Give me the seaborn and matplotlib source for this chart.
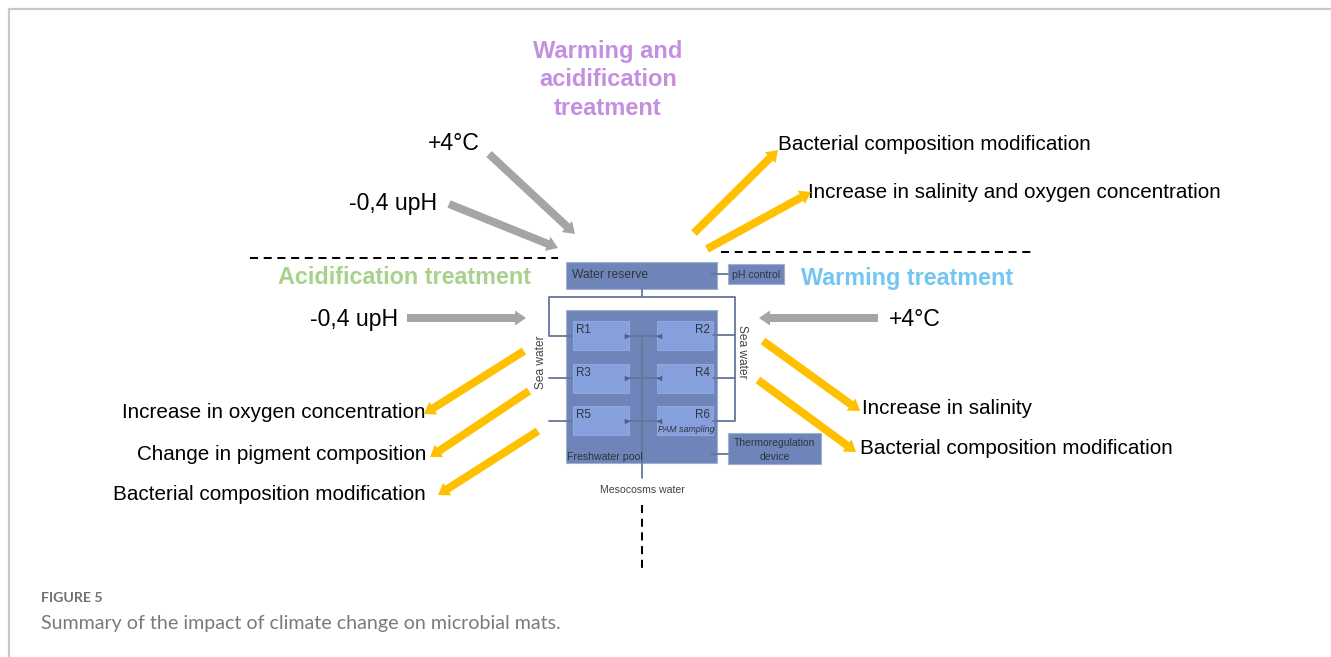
import seaborn as sns
import matplotlib.pyplot as plt
import pandas as pd
from matplotlib.patches import Rectangle

# Labels
title_top = "Warming and\nacidification\ntreatment"
title_left = "Acidification treatment"
title_right = "Warming treatment"
caption_head = "FIGURE 5"
caption_text = "Summary of the impact of climate change on microbial mats."
left_effects = ["Increase in oxygen concentration", "Change in pigment composition", "Bacterial composition modification"]
left_effects_y = [413, 454, 494]
right_effects = ["Increase in salinity", "Bacterial composition modification"]
right_effects_x = [862, 860]
right_effects_y = [408, 449]
top_effects = ["Bacterial composition modification", "Increase in salinity and oxygen concentration"]
top_effects_x = [778, 808]
top_effects_y = [144, 192]
reactors = ["R1", "R2", "R3", "R4", "R5", "R6"]
reactors_x = [573, 657, 573, 657, 573, 657]
reactors_y = [321, 321, 364, 364, 406, 406]

# Arrows as start x, start y, end x, end y (picture pixels)
gray_arrows = [(489, 154, 575, 234), (449, 204, 558, 248), (407, 318, 526, 318), (878, 318, 759, 318)]
yellow_arrows = [(694, 233, 778, 150), (707, 249, 811, 192),
                 (524, 351, 424, 414), (529, 391, 430, 457), (538, 431, 438, 495),
                 (763, 341, 860, 411), (758, 380, 856, 452)]

# Black dashed separators
dash_x = [[250, 558], [721, 1031], [642, 642]]
dash_y = [[258, 258], [252, 252], [505, 568]]

# Pipes of the set-up
pipes = [
    [(642, 289), (642, 297)],
    [(572, 336), (549, 336), (549, 297), (735, 297), (735, 421), (713, 421)],
    [(549, 378), (572, 378)], [(549, 421), (572, 421)],
    [(735, 335), (713, 335)], [(735, 378), (713, 378)],
    [(627, 336), (659, 336)], [(627, 378), (659, 378)], [(627, 421), (659, 421)],
    [(642, 336), (642, 478)],
    [(711, 274), (728, 274)], [(711, 454), (728, 454)],
]
pipe_rows = [(i, x, y) for i, pipe in enumerate(pipes) for x, y in pipe]
pipe_df = pd.DataFrame(pipe_rows, columns=["pipe", "x", "y"])

# Small valve marks at the reactor outlets
valve_left_x = [627, 627, 627]
valve_right_x = [659, 659, 659]
valve_y = [336, 378, 421]

sns.set_theme(style="white")
plt.rcParams["font.family"] = ["Liberation Sans", "DejaVu Sans"]

fig, ax = plt.subplots(figsize=(13.31, 6.57), dpi=100)
fig.subplots_adjust(left=0, right=1, top=1, bottom=0)
ax.set_xlim(0, 1331)
ax.set_ylim(657, 0)
ax.axis("off")

# Page frame
sns.lineplot(x=[8.5, 8.5, 1331], y=[657, 8.5, 8.5], sort=False, estimator=None, color="#c9c9c9", linewidth=1.6, ax=ax)

# Tanks
box_col = "#6f85b9"
tanks = [(566, 262, 151, 27), (728, 264, 56, 20), (566, 310, 151, 153), (728, 433, 93, 31)]
for x, y, w, h in tanks:
    ax.add_patch(Rectangle((x, y), w, h, facecolor=box_col, edgecolor="#a3b1d1", linewidth=0.8, zorder=1))
for x, y in zip(reactors_x, reactors_y):
    ax.add_patch(Rectangle((x, y), 56, 29, facecolor="#86a0de", edgecolor="#96addf", linewidth=0.6, zorder=2))

sns.lineplot(data=pipe_df, x="x", y="y", units="pipe", estimator=None, sort=False,
             color="#66769c", linewidth=1.3, ax=ax, zorder=3)
sns.scatterplot(x=valve_left_x, y=valve_y, marker=">", s=16, color="#4f5f85", linewidth=0, ax=ax, zorder=3)
sns.scatterplot(x=valve_right_x, y=valve_y, marker="<", s=16, color="#4f5f85", linewidth=0, ax=ax, zorder=3)

dark = "#2f3440"
ax.text(572, 274.5, "Water reserve", fontsize=8.7, color=dark, va="center")
ax.text(756, 275, "pH control", fontsize=7.6, color=dark, va="center", ha="center")
ax.text(774.5, 450, "Thermoregulation\ndevice", fontsize=7.5, color=dark, va="center", ha="center", linespacing=1.5)
ax.text(567, 457, "Freshwater pool", fontsize=7.6, color=dark, va="center")
ax.text(642, 490, "Mesocosms water", fontsize=7.6, color="#444444", va="center", ha="center")
ax.text(541, 362, "Sea water", fontsize=8.6, color="#444444", va="center", ha="center", rotation=90)
ax.text(742, 352, "Sea water", fontsize=8.6, color="#444444", va="center", ha="center", rotation=-90)
ax.text(686, 430, "PAM sampling", fontsize=6.4, color=dark, va="center", ha="center", style="italic")
for name, x, y in zip(reactors, reactors_x, reactors_y):
    if x < 640:
        ax.text(x + 3, y + 9, name, fontsize=8.4, color=dark, va="center")
    else:
        ax.text(x + 53, y + 9, name, fontsize=8.4, color=dark, va="center", ha="right")

# Separators
for xs, ys in zip(dash_x, dash_y):
    sns.lineplot(x=xs, y=ys, sort=False, estimator=None, color="black", linewidth=1.45,
                 linestyle=(0, (4, 2.8)), ax=ax)

# Thick block arrows
for arrows, col in [(gray_arrows, "#a5a5a5"), (yellow_arrows, "#ffc000")]:
    for x0, y0, x1, y1 in arrows:
        ax.arrow(x0, y0, x1 - x0, y1 - y0, width=8, head_width=15, head_length=11,
                 length_includes_head=True, color=col, linewidth=0, zorder=4)

# Treatment titles
ax.text(608, 80, title_top, fontsize=17, fontweight="bold", color="#c58fe0", ha="center", va="center", linespacing=1.28)
ax.text(405, 278, title_left, fontsize=16.8, fontweight="bold", color="#a9d18e", ha="center", va="center")
ax.text(907, 278, title_right, fontsize=16.8, fontweight="bold", color="#74c6f2", ha="center", va="center")

# Forcing labels
forcing = 16.6
ax.text(453.5, 143.5, "+4°C", fontsize=forcing, color="black", ha="center", va="center")
ax.text(393.5, 203.5, "-0,4 upH", fontsize=forcing, color="black", ha="center", va="center")
ax.text(354.5, 319.5, "-0,4 upH", fontsize=forcing, color="black", ha="center", va="center")
ax.text(914.5, 319.5, "+4°C", fontsize=forcing, color="black", ha="center", va="center")

# Effect labels
big = 14.9
for label, y in zip(left_effects, left_effects_y):
    ax.text(426, y, label, fontsize=big, color="black", ha="right", va="center")
for label, x, y in zip(right_effects, right_effects_x, right_effects_y):
    ax.text(x, y, label, fontsize=big, color="black", va="center")
for label, x, y in zip(top_effects, top_effects_x, top_effects_y):
    ax.text(x, y, label, fontsize=big, color="black", va="center")

# Caption
ax.text(41, 598, caption_head, fontsize=10.2, color="#6f6f6f", va="center", family="Lato", fontweight="bold")
ax.text(41, 623, caption_text, fontsize=14.1, color="#7a7a7a", va="center", family="Lato")

fig.savefig("out.png", dpi=100)
plt.close(fig)
